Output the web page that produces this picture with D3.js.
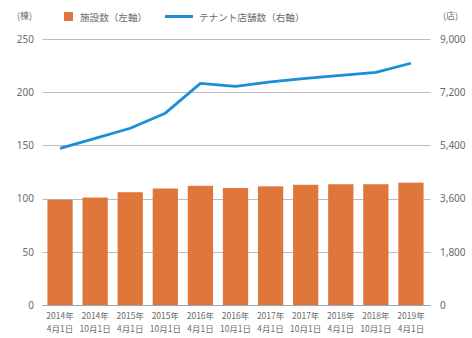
<!DOCTYPE html>
<html>
<head>
<meta charset="utf-8">
<script src="https://cdn.jsdelivr.net/npm/d3@7"></script>
<style>
  html, body { margin: 0; padding: 0; background: #fff; }
  svg { display: block; font-family: "Noto Sans CJK JP", "Noto Sans", sans-serif; }
</style>
</head>
<body>
<svg id="chart" width="472" height="338"></svg>
<script>
// Periods (two-line labels: year / date)
const periods = [
  ["2014年", "4月1日"], ["2014年", "10月1日"],
  ["2015年", "4月1日"], ["2015年", "10月1日"],
  ["2016年", "4月1日"], ["2016年", "10月1日"],
  ["2017年", "4月1日"], ["2017年", "10月1日"],
  ["2018年", "4月1日"], ["2018年", "10月1日"],
  ["2019年", "4月1日"]
];
// Number of facilities (left axis)
const facilities = [99, 101, 106, 109.5, 112, 110, 111.5, 113, 113.5, 113.5, 115];
// Number of tenant stores (right axis)
const tenants = [5300, 5640, 5980, 6490, 7500, 7400, 7550, 7670, 7770, 7870, 8180];
// Tick values
const leftTicks = [0, 50, 100, 150, 200, 250];
const rightTicks = [0, 1800, 3600, 5400, 7200, 9000];
const legendLabels = ["施設数（左軸）", "テナント店舗数（右軸）"];

const barColor = "#e0773a";
const lineColor = "#1b8fd6";
const textColor = "#6b6b6b";

const svg = d3.select("#chart");
const margin = { left: 42.5, right: 428.5, top: 39, bottom: 305 };

const x = d3.scaleBand()
  .domain(d3.range(periods.length))
  .range([margin.left, margin.right])
  .paddingInner(0.28)
  .paddingOuter(0.14);

const yL = d3.scaleLinear().domain([0, 250]).range([margin.bottom, margin.top]);
const yR = d3.scaleLinear().domain([0, 9000]).range([margin.bottom, margin.top]);

// Gridlines
svg.append("g")
  .selectAll("line")
  .data(leftTicks)
  .join("line")
  .attr("x1", margin.left)
  .attr("x2", margin.right + 2)
  .attr("y1", d => Math.round(yL(d)) + 0.5)
  .attr("y2", d => Math.round(yL(d)) + 0.5)
  .attr("stroke", d => d === 0 ? "#9aa7b0" : "#bdbdbd")
  .attr("stroke-width", 1.2);

// Left axis labels
const leftAxis = d3.axisLeft(yL).tickValues(leftTicks).tickSize(0).tickPadding(0)
  .tickFormat(d3.format("d"));
svg.append("g")
  .attr("transform", `translate(34,0)`)
  .call(leftAxis)
  .call(g => g.select(".domain").remove())
  .call(g => g.selectAll("text").attr("fill", textColor).attr("font-size", 10)
    .attr("font-family", "'Noto Sans', sans-serif"));

// Right axis labels
const rightAxis = d3.axisRight(yR).tickValues(rightTicks).tickSize(0).tickPadding(0)
  .tickFormat(d3.format(","));
svg.append("g")
  .attr("transform", `translate(440,0)`)
  .call(rightAxis)
  .call(g => g.select(".domain").remove())
  .call(g => g.selectAll("text").attr("fill", textColor).attr("font-size", 10)
    .attr("font-family", "'Noto Sans', sans-serif"));

// Unit labels
svg.append("text").attr("x", 17).attr("y", 19).attr("font-size", 9)
  .attr("fill", textColor).text("(棟)");
svg.append("text").attr("x", 443).attr("y", 19).attr("font-size", 9)
  .attr("fill", textColor).text("(店)");

// Bars
svg.append("g")
  .selectAll("rect")
  .data(facilities)
  .join("rect")
  .attr("x", (d, i) => x(i))
  .attr("width", x.bandwidth())
  .attr("y", d => yL(d))
  .attr("height", d => yL(0) - yL(d))
  .attr("fill", barColor);

// Tenant line
const line = d3.line()
  .x((d, i) => x(i) + x.bandwidth() / 2)
  .y(d => yR(d));
svg.append("path")
  .datum(tenants)
  .attr("d", line)
  .attr("fill", "none")
  .attr("stroke", lineColor)
  .attr("stroke-width", 2.8)
  .attr("stroke-linejoin", "round");

// X labels
const xl = svg.append("g")
  .selectAll("text")
  .data(periods)
  .join("text")
  .attr("text-anchor", "middle")
  .attr("font-size", 8.5)
  .attr("fill", textColor)
  .attr("transform", (d, i) => `translate(${x(i) + x.bandwidth() / 2},319)`);
xl.append("tspan").attr("x", 0).attr("y", 0).text(d => d[0]);
xl.append("tspan").attr("x", 0).attr("y", 13).text(d => d[1]);

// Legend
const lg = svg.append("g");
lg.append("rect").attr("x", 64).attr("y", 12).attr("width", 9).attr("height", 9).attr("fill", barColor);
lg.append("text").attr("x", 80).attr("y", 20.5).attr("font-size", 9.6).attr("fill", textColor)
  .text(legendLabels[0]);
lg.append("line").attr("x1", 165).attr("x2", 193).attr("y1", 16.5).attr("y2", 16.5)
  .attr("stroke", lineColor).attr("stroke-width", 3);
lg.append("text").attr("x", 199).attr("y", 20.5).attr("font-size", 9.6).attr("fill", textColor)
  .text(legendLabels[1]);
</script>
</body>
</html>
